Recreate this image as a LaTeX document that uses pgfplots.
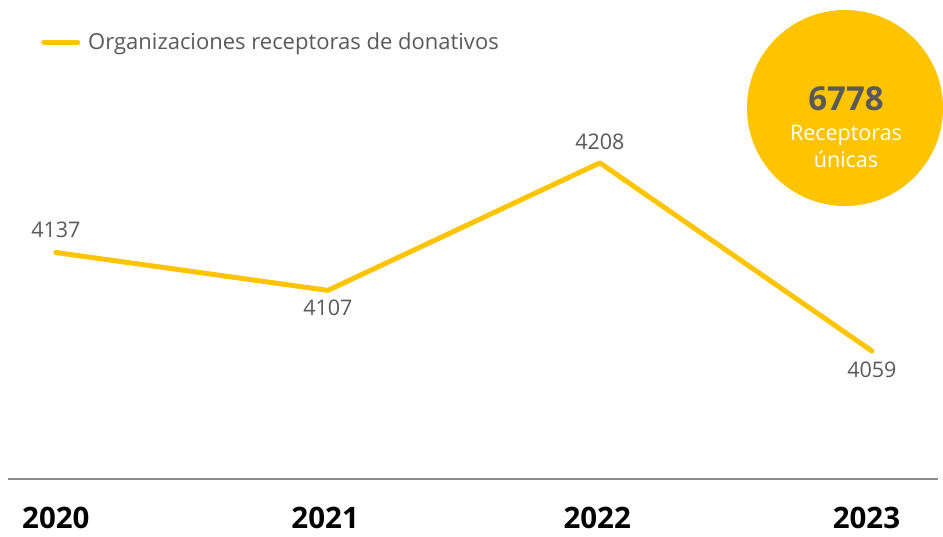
\documentclass[border=0pt]{standalone}
\usepackage{pgfplots}
\pgfplotsset{compat=1.18}
\usepackage{fontspec}
\setmainfont{Open Sans}
\definecolor{gold}{RGB}{255,196,0}
\definecolor{txtgray}{RGB}{89,89,89}
\definecolor{axgray}{RGB}{140,140,140}
\pgfplotstableread{
x y lbl pos
0 4137 4137 1.1
1 4107 4107 -0.85
2 4208 4208 1.0
3 4059 4059 -0.9
}\datatable
\begin{document}
\begin{tikzpicture}
\path[use as bounding box] (0,0) rectangle (943pt,536pt);
\fill[gold] (845pt,428pt) circle (98pt);
\node[font=\bfseries\fontsize{33}{36}\selectfont, text=txtgray] at (846pt,437pt) {6778};
\node[font=\fontsize{21.5}{24}\selectfont, text=white] at (846pt,401pt) {Receptoras};
\node[font=\fontsize{21.5}{24}\selectfont, text=white] at (846pt,377pt) {únicas};
\begin{axis}[
  at={(8pt,57pt)}, anchor=south west,
  width=930pt, height=479pt, scale only axis,
  xmin=-0.176, xmax=3.243, ymin=3957.6, ymax=4337,
  axis x line*=bottom, axis y line=none,
  x axis line style={draw=axgray, line width=1.5pt, -},
  xtick={0,0.99,1.99,2.98}, xticklabels={2020,2021,2022,2023},
  major tick length=0pt,
  xticklabel style={font=\bfseries\fontsize{29.5}{32}\selectfont, anchor=center, yshift=-39pt, text=black},
  clip=false,
  legend style={at={(0.0355,0.912)}, anchor=west, draw=none, fill=none, inner sep=0pt,
    font=\fontsize{22}{26}\selectfont, text=txtgray,
    /tikz/every odd column/.append style={column sep=6pt}},
  legend cell align=left,
  legend image code/.code={\draw[line width=5pt, line cap=round, gold] (0pt,0pt) -- (34pt,0pt);},
]
\addplot[gold, line width=5pt, line join=round, line cap=round,
  nodes near coords, point meta=explicit symbolic,
  visualization depends on={\thisrow{pos} \as \pos},
  nodes near coords style={anchor=center, yshift=\pos*21pt, text=txtgray, font=\fontsize{21.5}{24}\selectfont}]
  table[x=x, y=y, meta=lbl] {\datatable};
\addlegendentry{Organizaciones receptoras de donativos}
\end{axis}
\end{tikzpicture}
\end{document}
